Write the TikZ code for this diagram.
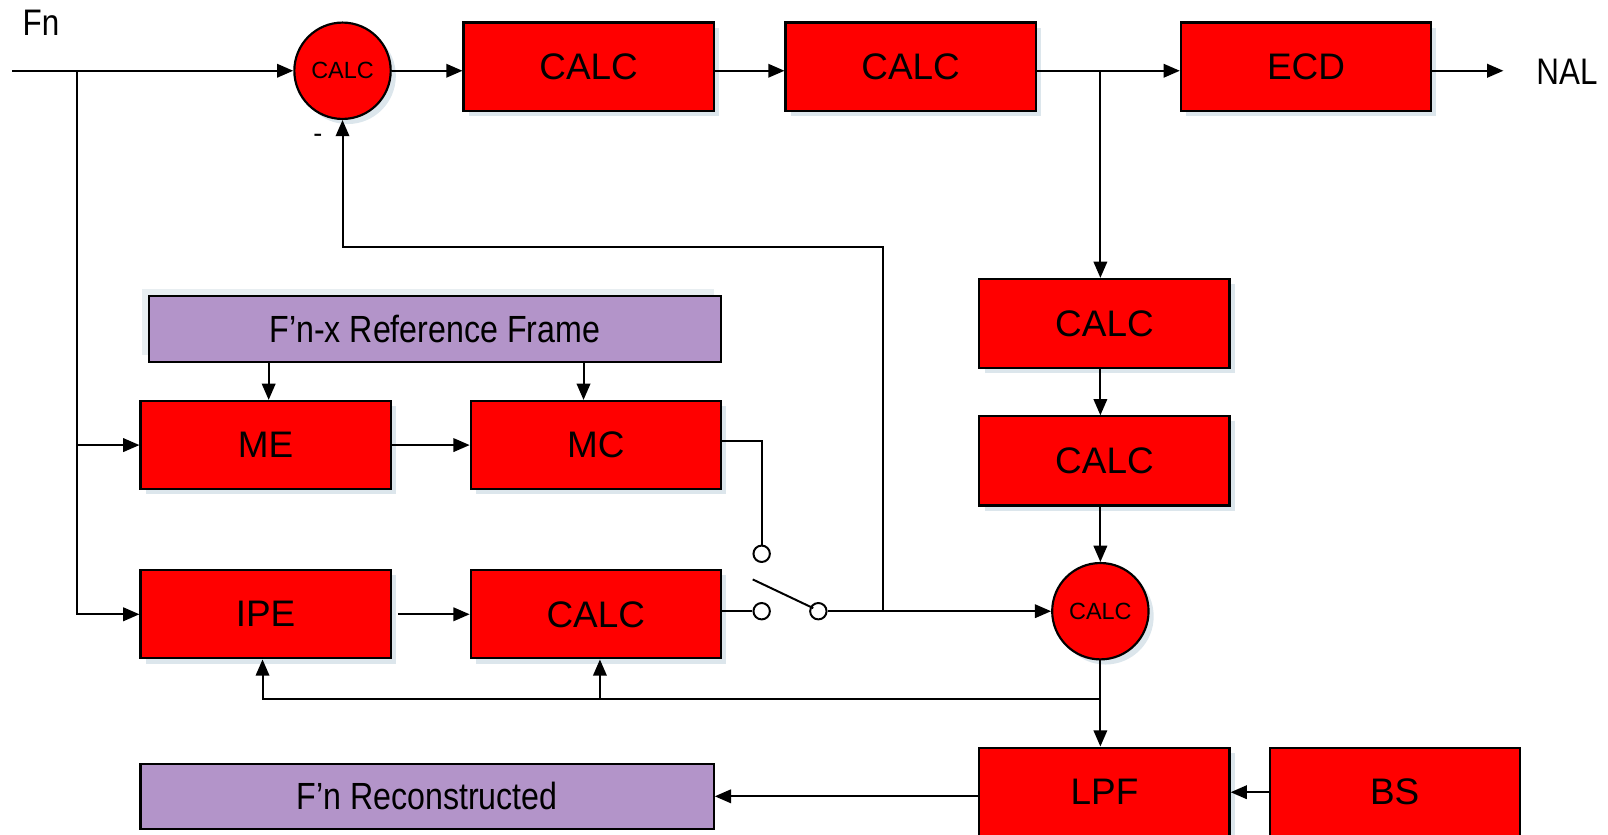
\documentclass[tikz,border=0pt]{standalone}
\usepackage{fontspec}
\setmainfont{Liberation Sans}
\newfontfamily\narrowfont[FakeStretch=0.85]{Liberation Sans}
\usetikzlibrary{arrows.meta,shadows,calc}
\definecolor{blockred}{HTML}{FF0000}
\definecolor{framepurple}{HTML}{B394C9}
\definecolor{shadowgrey}{HTML}{DCE6EC}
\definecolor{shadowlight}{HTML}{E8EEF1}

\begin{document}
\begin{tikzpicture}[x=0.02cm,y=-0.02cm,
  line width=1.1pt,
  arr/.style={-{Triangle[length=9pt,width=7.5pt]}},
  boxshadow/.style={drop shadow={shadow xshift=0.1cm, shadow yshift=-0.1cm,
      fill=shadowgrey, draw=none, opacity=1}},
  redbase/.style={draw, line width=1.2pt, fill=blockred,
      minimum width=4.88cm, minimum height=1.72cm, inner sep=0pt,
      font=\fontsize{20.5}{24}\selectfont},
  redblock/.style={redbase, boxshadow},
  sumnode/.style={circle, draw, line width=1.2pt, fill=blockred,
      minimum size=1.88cm, inner sep=0pt, font=\fontsize{13}{15}\selectfont,
      boxshadow},
  framebox/.style={draw, line width=1.2pt, fill=framepurple, inner sep=0pt,
      font=\narrowfont\fontsize{21}{25}\selectfont},
  contact/.style={circle, draw, fill=white, minimum size=0.32cm, inner sep=0pt},
  label/.style={font=\narrowfont\fontsize{20.5}{24}\selectfont, inner sep=0pt}
]
\useasboundingbox (0,0) rectangle (1568,814);

% forward path
\node[sumnode]  (c1)  at (334,69)     {CALC};
\node[redblock] (b1)  at (574,65)     {CALC};
\node[redblock] (b2)  at (888,65)     {CALC};
\node[redblock] (ecd) at (1273.5,65)  {ECD};

% reconstruction branch
\node[redblock, minimum height=1.74cm] (r1) at (1077,315.5) {CALC};
\node[redblock, minimum height=1.74cm] (r2) at (1077,449.5) {CALC};
\node[sumnode]  (c2)  at (1073,596)   {CALC};
\node[redblock, minimum height=1.74cm] (lpf) at (1077,772.5) {LPF};
\node[redbase,  minimum height=1.74cm] (bs)  at (1360,772.5) {BS};

% prediction blocks
\node[framebox, minimum width=11.16cm, minimum height=1.28cm,
      drop shadow={shadow xshift=-0.14cm, shadow yshift=0.14cm,
      fill=shadowlight, draw=none, opacity=1}] (ref) at (424,321) {F’n-x Reference Frame};
\node[redblock] (me)  at (259,434) {ME};
\node[redblock] (mc)  at (581,434) {MC};
\node[redblock] (ipe) at (259,599) {IPE};
\node[redblock] (cl)  at (581,599) {CALC};
\node[framebox, minimum width=11.18cm, minimum height=1.26cm] (rec) at (416.5,776.5) {F’n Reconstructed};

% labels
\node[label] (fn)  at (40,22)   {Fn};
\node[label] (nal) at (1528,70) {NAL};
\node[font=\fontsize{15}{17}\selectfont] (minus) at (310,135) {-};

% switch contacts
\node[contact] (swa) at (742.7,540) {};
\node[contact] (swb) at (742.7,596) {};
\node[contact] (swp) at (798,596)   {};

% junction points
\coordinate (src)   at (12,69);
\coordinate (split) at (75,69);
\coordinate (tap)   at (1073,69);
\coordinate (out)   at (1466,69);
\coordinate (fb)    at (1073,682);
\coordinate (fbk)   at (861,596);
\coordinate (fbtop) at (861,241);

% input and forward path
\draw[arr] (src) -- (c1.west);
\draw[arr] (split) |- (me.west);
\draw[arr] (split) |- (ipe.west);
\draw[arr] (c1.east) -- (b1.west |- c1.east);
\draw[arr] (b1.east |- c1.east) -- (b2.west |- c1.east);
\draw (b2.east |- tap) -- (tap);
\draw[arr] (tap) -- (ecd.west |- tap);
\draw[arr] (ecd.east |- tap) -- (out);

% reconstruction path
\draw[arr] (tap) -- (tap |- r1.north);
\draw[arr] (r1.south -| tap) -- (r2.north -| tap);
\draw[arr] (r2.south -| c2) -- (c2.north);
\draw[arr] (c2.south) -- (c2.south |- lpf.north);
\draw[arr] (fb) -| ([xshift=-0.06cm]ipe.south);
\draw[arr] ([xshift=0.08cm]cl.south |- fb) -- ([xshift=0.08cm]cl.south);
\draw[arr] (bs.west) -- (lpf.east);
\draw[arr] (lpf.west |- rec.east) -- (rec.east);

% prediction path
\draw[arr] ([xshift=0.06cm]me.north |- ref.south) -- ([xshift=0.06cm]me.north);
\draw[arr] ([xshift=-0.24cm]mc.north |- ref.south) -- ([xshift=-0.24cm]mc.north);
\draw[arr] (me.east) -- (mc.west);
\draw[arr] ([xshift=0.12cm]ipe.east) -- (cl.west);
\draw ([yshift=0.08cm]mc.east) -| (swa.north);
\draw (cl.east |- swb) -- (swb.west);
\draw (swp.center) ++(-5,-3) -- ++(-59,-28);
\draw[arr] (swp.east) -- (c2.west);

% feedback to the first sum node
\draw[arr] (fbk) -- (fbtop) -| (c1.south);
\end{tikzpicture}
\end{document}
